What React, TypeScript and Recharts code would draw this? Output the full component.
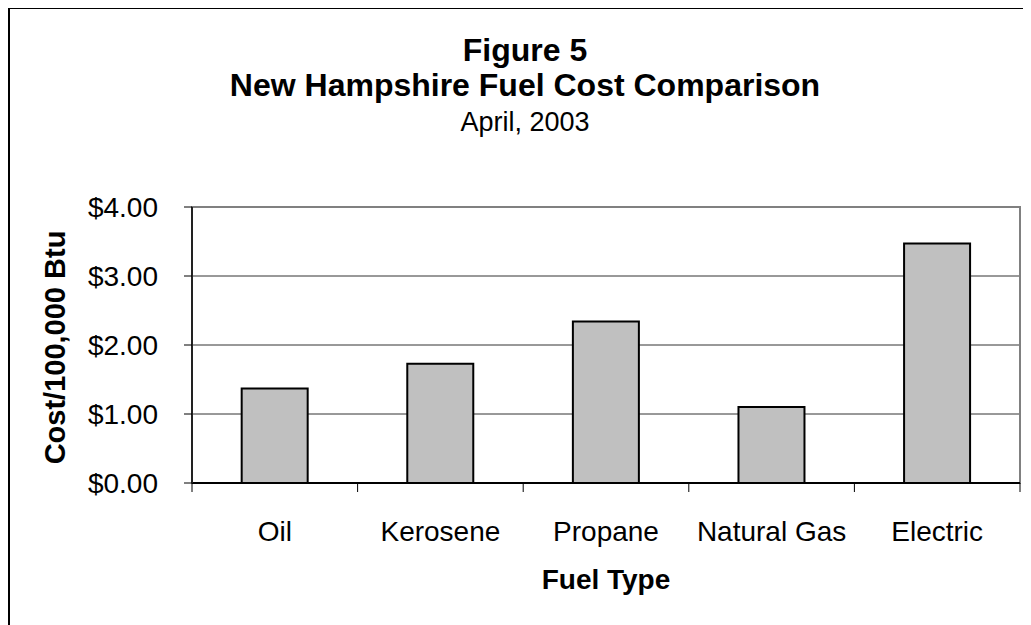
import { BarChart, Bar, XAxis, YAxis, CartesianGrid, ReferenceArea } from "recharts";

// Figure 5 - New Hampshire fuel cost comparison, April 2003
const FUEL_TYPES = ["Oil", "Kerosene", "Propane", "Natural Gas", "Electric"];
const COST_PER_100K_BTU = [1.37, 1.73, 2.34, 1.1, 3.47];
const Y_TICKS = [0, 1, 2, 3, 4];

const FONT = "'Liberation Sans', Arial, Helvetica, sans-serif";
const W = 1023;
const H = 617;
const MARGIN = { top: 199, right: 11, bottom: 42, left: 84 };
const Y_AXIS_W = 100;
const X_AXIS_H = 100;
const BAND = (W - MARGIN.left - MARGIN.right - Y_AXIS_W) / FUEL_TYPES.length;

const data = FUEL_TYPES.map((name, i) => ({ name, cost: COST_PER_100K_BTU[i] }));

function FuelTick({ x, y, payload, index }: any) {
  const half = BAND / 2;
  return (
    <g>
      <line x1={x - half} x2={x - half} y1={y} y2={y + 9} stroke="#000" strokeWidth={1} />
      {index === FUEL_TYPES.length - 1 && (
        <line x1={x + half} x2={x + half} y1={y} y2={y + 9} stroke="#000" strokeWidth={1} />
      )}
      <text x={x} y={y + 58} textAnchor="middle" fontSize={28} fontFamily={FONT} fill="#000">
        {payload.value}
      </text>
    </g>
  );
}

const centered = (left: number, top: number, size: number, bold: boolean) => ({
  position: "absolute" as const,
  left,
  top,
  transform: "translateX(-50%)",
  whiteSpace: "nowrap" as const,
  fontFamily: FONT,
  fontSize: size,
  fontWeight: bold ? 700 : 400,
  lineHeight: 1,
  color: "#000",
});

export default function App() {
  return (
    <div style={{ position: "relative", width: W, height: H }}>
      {/* outer frame: only the top and left edges fall inside the picture */}
      <div style={{ position: "absolute", left: 0, top: -2, width: W, height: 3, background: "#000", zIndex: 5 }} />
      <div style={{ position: "absolute", left: 0, top: -2, width: 2, height: H + 2, background: "#000" }} />
      <div style={centered(517, 26, 32, true)}>Figure 5</div>
      <div style={centered(517, 61, 32, true)}>New Hampshire Fuel Cost Comparison</div>
      <div style={centered(517, 101, 27, false)}>April, 2003</div>
      <div
        style={{
          ...centered(47, 325, 29, true),
          transform: "translate(-50%, 0) rotate(-90deg)",
        }}
      >
        Cost/100,000 Btu
      </div>
      <div style={centered(598, 558, 28, true)}>Fuel Type</div>
      <div style={{ position: "absolute", left: 0, top: 0 }}>
        <BarChart width={W} height={H} data={data} margin={MARGIN} barCategoryGap="30%">
          <CartesianGrid vertical={false} stroke="#333" strokeWidth={1} />
          <ReferenceArea y1={0} y2={4} fill="none" stroke="#808080" strokeWidth={2} ifOverflow="visible" />
          <XAxis
            dataKey="name"
            height={X_AXIS_H}
            interval={0}
            tickSize={0}
            tickMargin={0}
            tickLine={false}
            axisLine={{ stroke: "#000", strokeWidth: 2 }}
            tick={<FuelTick />}
          />
          <YAxis
            width={Y_AXIS_W}
            domain={[0, 4]}
            ticks={Y_TICKS}
            tickFormatter={(v: number) => `$${v.toFixed(2)}`}
            tickSize={8}
            tickMargin={26}
            axisLine={{ stroke: "#222", strokeWidth: 2 }}
            tickLine={{ stroke: "#000" }}
            tick={{ fill: "#000", fontSize: 28, fontFamily: FONT }}
          />
          <Bar dataKey="cost" fill="#C0C0C0" stroke="#000" strokeWidth={2} isAnimationActive={false} />
        </BarChart>
      </div>
    </div>
  );
}
